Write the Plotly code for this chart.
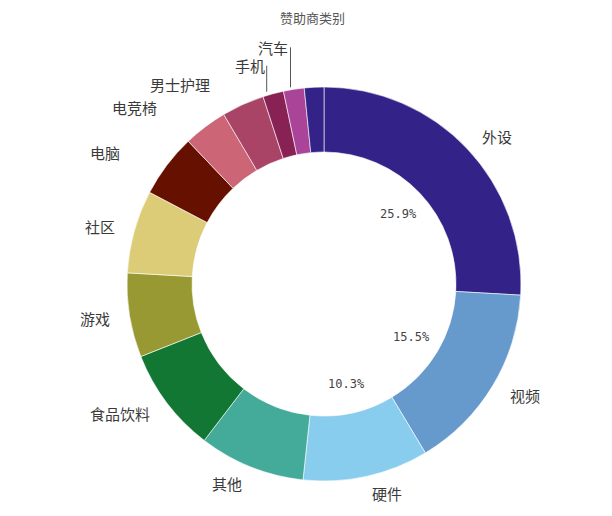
import math
import plotly.graph_objects as go

# 赞助商类别占比（%），顺时针从 12 点开始
categories = ["外设", "视频", "硬件", "其他", "食品饮料", "游戏", "社区",
              "电脑", "电竞椅", "男士护理", "手机", "汽车", "未标注"]
shares = [25.9, 15.5, 10.3, 8.7, 8.6, 6.9, 6.8, 5.2, 3.6, 3.5, 1.7, 1.7, 1.6]
colors = ["#332288", "#6699CC", "#88CCEE", "#44AA99", "#117733", "#999933",
          "#DDCC77", "#661100", "#CC6677", "#AA4466", "#882255", "#AA4499",
          "#332288"]

W, H = 612, 516
OFF = 8  # 页面自带的边距
CX, CY, R = 324 - OFF, 284 - OFF, 197
HOLE = 0.67

fig = go.Figure(go.Pie(
    labels=categories,
    values=shares,
    sort=False,
    direction="clockwise",
    rotation=0,
    hole=HOLE,
    marker=dict(colors=colors, line=dict(color="white", width=0.6)),
    textinfo="none",
    hoverinfo="label+percent",
    domain=dict(x=[(CX - R) / W, (CX + R) / W],
                y=[1 - (CY + R) / H, 1 - (CY - R) / H]),
))


def to_paper(px, py):
    return px / W, 1 - py / H


# 标签位置按扇区中线角度计算
label_font = dict(family="Noto Sans CJK SC", size=15, color="#3a3a3a")
nudge = {"电脑": (26, -4), "电竞椅": (26, -6), "男士护理": (14, -5)}
arrows = {"手机": (-26, -6), "汽车": (-40, -3)}
total = sum(shares)
start = 0.0
annotations = []
for i, (name, v) in enumerate(zip(categories, shares)):
    sweep = v / total * 360
    mid = start + sweep / 2
    start += sweep
    if name == "未标注":
        continue
    if i < 3:
        rr = R * 0.52
        a = math.radians(mid)
        x, y = to_paper(CX + rr * math.sin(a), CY - rr * math.cos(a))
        annotations.append(dict(x=x, y=y, xref="paper", yref="paper",
                                text=f"{v:.1f}%", showarrow=False,
                                xanchor="center", yanchor="middle",
                                font=dict(family="DejaVu Sans Mono", size=12,
                                          color="#444")))
    if name in arrows:
        ay, xs = arrows[name]
        a = math.radians(mid)
        x, y = to_paper(CX + (R + 2) * math.sin(a), CY - (R + 2) * math.cos(a))
        annotations.append(dict(x=x, y=y, xref="paper", yref="paper",
                                text=name, showarrow=True, arrowhead=0,
                                arrowwidth=1, arrowcolor="#555",
                                ax=0, ay=ay, xanchor="right",
                                yanchor="middle", xshift=xs, font=label_font))
        continue
    dr, dt = nudge.get(name, (0, 0))
    a = math.radians(mid + dt)
    rr = R + 18 + dr
    s = math.sin(a)
    xa = "left" if s > 0.1 else ("right" if s < -0.1 else "center")
    x, y = to_paper(CX + rr * s, CY - rr * math.cos(a))
    annotations.append(dict(x=x, y=y, xref="paper", yref="paper", text=name,
                            showarrow=False, xanchor=xa, yanchor="middle",
                            font=label_font))

annotations.append(dict(x=(312 - OFF) / W, y=1 - (17 - OFF) / H,
                        xref="paper", yref="paper", xanchor="center",
                        yanchor="middle", text="赞助商类别", showarrow=False,
                        font=dict(family="Noto Sans CJK SC", size=13,
                                  color="#555")))

fig.update_layout(
    width=W, height=H,
    margin=dict(l=0, r=0, t=0, b=0),
    paper_bgcolor="white",
    showlegend=False,
    annotations=annotations,
)

fig.write_html("out.html")
